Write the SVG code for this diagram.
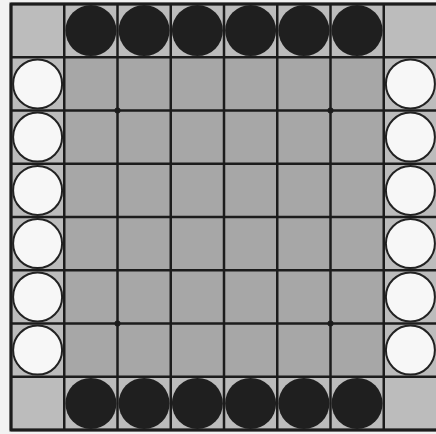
<svg xmlns="http://www.w3.org/2000/svg" width="436" height="434" viewBox="0 0 436 434">
<style>
.edge{fill:#bcbcbc}
.inner{fill:#a7a7a7}
.grid{stroke:#1c1c1c;stroke-width:2.5;fill:none}
.blk{fill:#1f1f1f}
.wht{fill:#f7f7f7;stroke:#222;stroke-width:2}
.dot{fill:#1c1c1c}
</style>
<rect x="0" y="0" width="436" height="434" fill="#f2f2f2"/>
<g id="board">
<rect class="edge" x="11" y="4" width="426" height="426"/>
<rect class="inner" x="64.25" y="57.25" width="319.5" height="319.5"/>
<g class="grid">
<path d="M11 4V430M64.25 4V430M117.5 4V430M170.75 4V430M224 4V430M277.25 4V430M330.5 4V430M383.75 4V430"/>
<path d="M11 4H437M11 57.25H437M11 110.5H437M11 163.75H437M11 217H437M11 270.25H437M11 323.5H437M11 376.75H437M11 430H437"/>
<rect x="11" y="4" width="430" height="426" stroke-width="3"/>
</g>
<circle class="dot" cx="117.5" cy="110.5" r="3"/>
<circle class="dot" cx="330.5" cy="110.5" r="3"/>
<circle class="dot" cx="117.5" cy="323.5" r="3"/>
<circle class="dot" cx="330.5" cy="323.5" r="3"/>
</g>
<g id="black-top">
<g id="b1"><circle class="blk" cx="90.9" cy="30.6" r="25.5"/></g>
<g id="b2"><circle class="blk" cx="144.1" cy="30.6" r="25.5"/></g>
<g id="b3"><circle class="blk" cx="197.4" cy="30.6" r="25.5"/></g>
<g id="b4"><circle class="blk" cx="250.6" cy="30.6" r="25.5"/></g>
<g id="b5"><circle class="blk" cx="303.9" cy="30.6" r="25.5"/></g>
<g id="b6"><circle class="blk" cx="357.1" cy="30.6" r="25.5"/></g>
</g>
<g id="black-bottom">
<g id="b7"><circle class="blk" cx="90.9" cy="403.4" r="25.5"/></g>
<g id="b8"><circle class="blk" cx="144.1" cy="403.4" r="25.5"/></g>
<g id="b9"><circle class="blk" cx="197.4" cy="403.4" r="25.5"/></g>
<g id="b10"><circle class="blk" cx="250.6" cy="403.4" r="25.5"/></g>
<g id="b11"><circle class="blk" cx="303.9" cy="403.4" r="25.5"/></g>
<g id="b12"><circle class="blk" cx="357.1" cy="403.4" r="25.5"/></g>
</g>
<g id="white-left">
<g id="w1"><circle class="wht" cx="37.6" cy="83.9" r="24.5"/></g>
<g id="w2"><circle class="wht" cx="37.6" cy="137.1" r="24.5"/></g>
<g id="w3"><circle class="wht" cx="37.6" cy="190.4" r="24.5"/></g>
<g id="w4"><circle class="wht" cx="37.6" cy="243.6" r="24.5"/></g>
<g id="w5"><circle class="wht" cx="37.6" cy="296.9" r="24.5"/></g>
<g id="w6"><circle class="wht" cx="37.6" cy="350.1" r="24.5"/></g>
</g>
<g id="white-right">
<g id="w7"><circle class="wht" cx="410.4" cy="83.9" r="24.5"/></g>
<g id="w8"><circle class="wht" cx="410.4" cy="137.1" r="24.5"/></g>
<g id="w9"><circle class="wht" cx="410.4" cy="190.4" r="24.5"/></g>
<g id="w10"><circle class="wht" cx="410.4" cy="243.6" r="24.5"/></g>
<g id="w11"><circle class="wht" cx="410.4" cy="296.9" r="24.5"/></g>
<g id="w12"><circle class="wht" cx="410.4" cy="350.1" r="24.5"/></g>
</g>
<g id="connectors"/>
</svg>
